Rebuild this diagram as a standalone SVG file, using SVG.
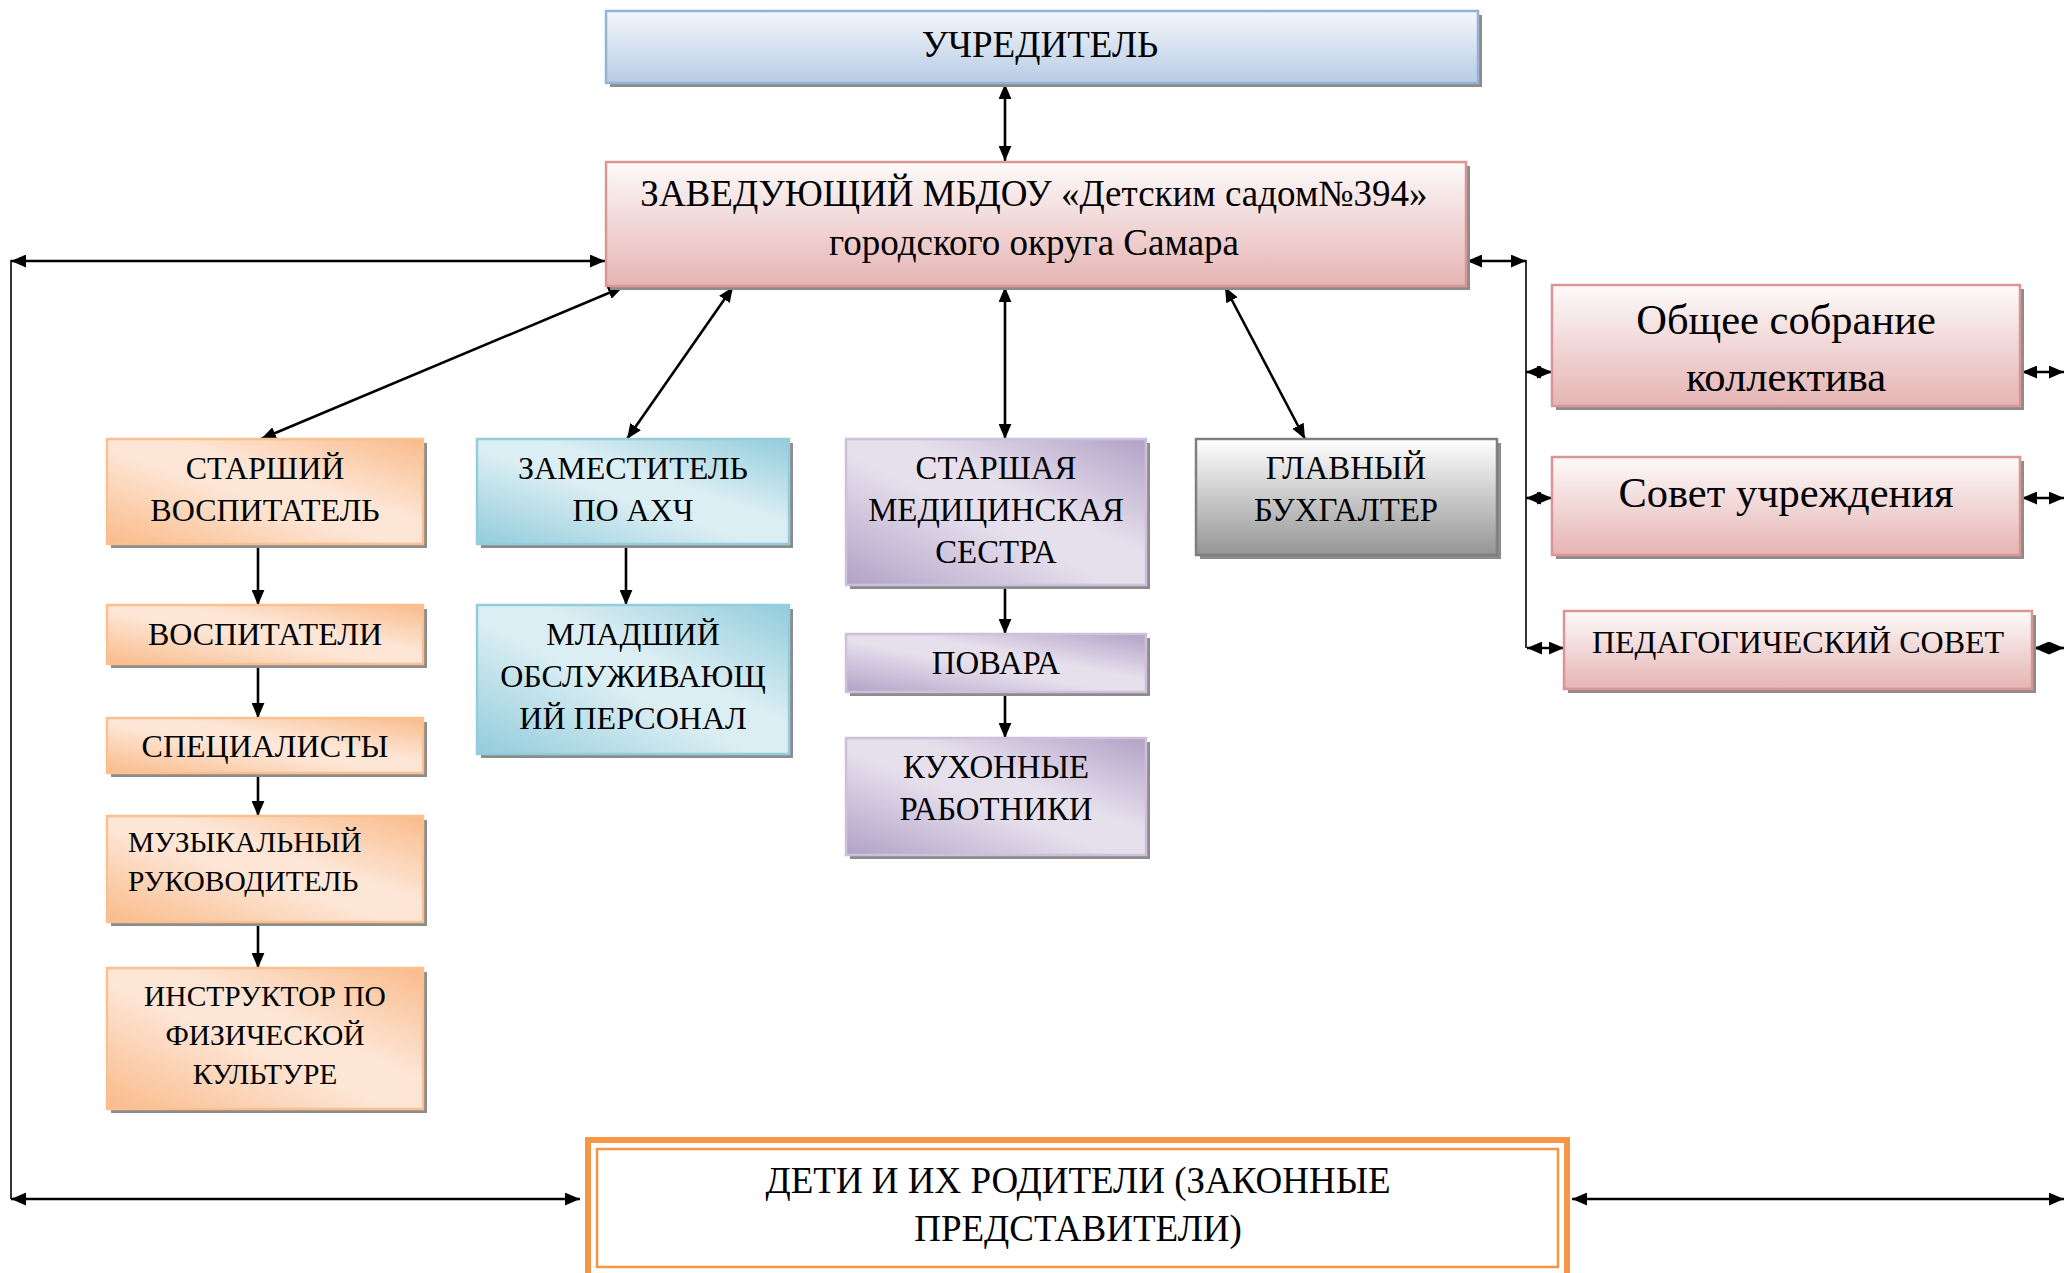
<svg xmlns="http://www.w3.org/2000/svg" width="2066" height="1273" viewBox="0 0 2066 1273">
<style>
  text { font-family: "Liberation Serif", "Times New Roman", serif; fill: #000; text-anchor: middle; }
  .t { font-size: 32px; }
  .ts { font-size: 29.5px; }
  .tp { font-size: 32.8px; }
  .tm { font-size: 37px; }
  .tb { font-size: 42.5px; }
  .sh { fill: #8c8c8c; }
  .conn line, .conn path { stroke: #000; stroke-width: 2.6; fill: none; }
  .thin { stroke-width: 1.6 !important; }
</style>
<defs>
  <linearGradient id="gBlueTop" x1="0" y1="0" x2="0" y2="1">
    <stop offset="0" stop-color="#f4f7fb"/>
    <stop offset="1" stop-color="#b8cce4"/>
  </linearGradient>
  <linearGradient id="gPink" x1="0" y1="0" x2="0" y2="1">
    <stop offset="0" stop-color="#fdfafa"/>
    <stop offset="1" stop-color="#e5b4b3"/>
  </linearGradient>
  <linearGradient id="gGray" x1="0" y1="0" x2="0" y2="1">
    <stop offset="0" stop-color="#ffffff"/>
    <stop offset="1" stop-color="#959595"/>
  </linearGradient>
  <linearGradient id="gOrange" x1="0" y1="1" x2="1" y2="0">
    <stop offset="0" stop-color="#f9bb8a"/>
    <stop offset="0.45" stop-color="#fde6d6"/>
    <stop offset="0.6" stop-color="#fde6d6"/>
    <stop offset="1" stop-color="#f9bb8a"/>
  </linearGradient>
  <linearGradient id="gCyan" x1="0" y1="1" x2="1" y2="0">
    <stop offset="0" stop-color="#92ccdc"/>
    <stop offset="0.45" stop-color="#dbeef3"/>
    <stop offset="0.6" stop-color="#dbeef3"/>
    <stop offset="1" stop-color="#92ccdc"/>
  </linearGradient>
  <linearGradient id="gPurple" x1="0" y1="1" x2="1" y2="0">
    <stop offset="0" stop-color="#b2a1c7"/>
    <stop offset="0.45" stop-color="#e6e0ed"/>
    <stop offset="0.6" stop-color="#e6e0ed"/>
    <stop offset="1" stop-color="#b2a1c7"/>
  </linearGradient>
  <marker id="ah" viewBox="0 0 14 12" refX="14" refY="6" markerWidth="15" markerHeight="13" markerUnits="userSpaceOnUse" orient="auto-start-reverse">
    <path d="M0,0 L14,6 L0,12 z" fill="#000"/>
  </marker>
</defs>

<rect width="2066" height="1273" fill="#fff"/>

<g id="conn" class="conn">
  <line x1="1005" y1="84" x2="1005" y2="161" marker-start="url(#ah)" marker-end="url(#ah)"/>
  <line x1="11" y1="261" x2="605" y2="261" marker-start="url(#ah)" marker-end="url(#ah)"/>
  <line class="thin" x1="11" y1="260" x2="11" y2="1199"/>
  <line x1="11" y1="1199" x2="580" y2="1199" marker-start="url(#ah)" marker-end="url(#ah)"/>
  <line x1="1572" y1="1199" x2="2064" y2="1199" marker-start="url(#ah)" marker-end="url(#ah)"/>
  <line x1="1467" y1="261" x2="1526" y2="261" marker-start="url(#ah)" marker-end="url(#ah)"/>
  <line class="thin" x1="1526" y1="260" x2="1526" y2="648"/>
  <line x1="1526" y1="372" x2="1552" y2="372" marker-start="url(#ah)" marker-end="url(#ah)"/>
  <line x1="1526" y1="498" x2="1552" y2="498" marker-start="url(#ah)" marker-end="url(#ah)"/>
  <line x1="1527" y1="648" x2="1564" y2="648" marker-start="url(#ah)" marker-end="url(#ah)"/>
  <line x1="2022" y1="372" x2="2064" y2="372" marker-start="url(#ah)" marker-end="url(#ah)"/>
  <line x1="2022" y1="498" x2="2064" y2="498" marker-start="url(#ah)" marker-end="url(#ah)"/>
  <line x1="2034" y1="648" x2="2064" y2="648" marker-start="url(#ah)" marker-end="url(#ah)"/>
  <line x1="623" y1="287" x2="261" y2="439" marker-start="url(#ah)" marker-end="url(#ah)"/>
  <line x1="733" y1="287" x2="627" y2="439" marker-start="url(#ah)" marker-end="url(#ah)"/>
  <line x1="1005" y1="287" x2="1005" y2="439" marker-start="url(#ah)" marker-end="url(#ah)"/>
  <line x1="1225" y1="287" x2="1305" y2="439" marker-start="url(#ah)" marker-end="url(#ah)"/>
  <line x1="258" y1="545" x2="258" y2="605" marker-end="url(#ah)"/>
  <line x1="258" y1="664" x2="258" y2="718" marker-end="url(#ah)"/>
  <line x1="258" y1="773" x2="258" y2="816" marker-end="url(#ah)"/>
  <line x1="258" y1="922" x2="258" y2="968" marker-end="url(#ah)"/>
  <line x1="626" y1="545" x2="626" y2="605" marker-end="url(#ah)"/>
  <line x1="1005" y1="586" x2="1005" y2="634" marker-end="url(#ah)"/>
  <line x1="1005" y1="692" x2="1005" y2="738" marker-end="url(#ah)"/>
</g>

<g id="uchreditel">
  <rect class="sh" x="610" y="15" width="872" height="72"/>
  <rect x="606" y="11" width="872" height="72" fill="url(#gBlueTop)" stroke="#95b3d7" stroke-width="2.5"/>
  <text class="tm" x="1040" y="57">УЧРЕДИТЕЛЬ</text>
</g>

<g id="zaveduyushchiy">
  <rect class="sh" x="610" y="166" width="860" height="124"/>
  <rect x="606" y="162" width="860" height="124" fill="url(#gPink)" stroke="#d99694" stroke-width="2.5"/>
  <text class="tm" x="1034" y="206">ЗАВЕДУЮЩИЙ МБДОУ «Детским садом№394»</text>
  <text class="tm" x="1034" y="255">городского округа Самара</text>
</g>

<g id="obshchee">
  <rect class="sh" x="1556" y="289" width="468" height="121"/>
  <rect x="1552" y="285" width="468" height="121" fill="url(#gPink)" stroke="#d99694" stroke-width="2.5"/>
  <text class="tb" x="1786" y="334">Общее собрание</text>
  <text class="tb" x="1786" y="391">коллектива</text>
</g>

<g id="sovet">
  <rect class="sh" x="1556" y="461" width="468" height="98"/>
  <rect x="1552" y="457" width="468" height="98" fill="url(#gPink)" stroke="#d99694" stroke-width="2.5"/>
  <text class="tb" x="1786" y="507">Совет учреждения</text>
</g>

<g id="pedsovet">
  <rect class="sh" x="1568" y="615" width="468" height="78"/>
  <rect x="1564" y="611" width="468" height="78" fill="url(#gPink)" stroke="#d99694" stroke-width="2.5"/>
  <text class="t" x="1798" y="653">ПЕДАГОГИЧЕСКИЙ СОВЕТ</text>
</g>

<g id="starshiy-vospitatel">
  <rect class="sh" x="111" y="443" width="316" height="105"/>
  <rect x="107" y="439" width="316" height="105" fill="url(#gOrange)" stroke="#fac090" stroke-width="2.5"/>
  <text class="t" x="265" y="479">СТАРШИЙ</text>
  <text class="t" x="265" y="521">ВОСПИТАТЕЛЬ</text>
</g>

<g id="vospitateli">
  <rect class="sh" x="111" y="609" width="316" height="59"/>
  <rect x="107" y="605" width="316" height="59" fill="url(#gOrange)" stroke="#fac090" stroke-width="2.5"/>
  <text class="t" x="265" y="645">ВОСПИТАТЕЛИ</text>
</g>

<g id="spetsialisty">
  <rect class="sh" x="111" y="722" width="316" height="55"/>
  <rect x="107" y="718" width="316" height="55" fill="url(#gOrange)" stroke="#fac090" stroke-width="2.5"/>
  <text class="t" x="265" y="757">СПЕЦИАЛИСТЫ</text>
</g>

<g id="muzykalnyy">
  <rect class="sh" x="111" y="820" width="316" height="106"/>
  <rect x="107" y="816" width="316" height="106" fill="url(#gOrange)" stroke="#fac090" stroke-width="2.5"/>
  <text class="ts" x="128" y="852" style="text-anchor:start">МУЗЫКАЛЬНЫЙ</text>
  <text class="ts" x="128" y="891" style="text-anchor:start">РУКОВОДИТЕЛЬ</text>
</g>

<g id="instruktor">
  <rect class="sh" x="111" y="972" width="316" height="141"/>
  <rect x="107" y="968" width="316" height="141" fill="url(#gOrange)" stroke="#fac090" stroke-width="2.5"/>
  <text class="ts" x="265" y="1006">ИНСТРУКТОР ПО</text>
  <text class="ts" x="265" y="1045">ФИЗИЧЕСКОЙ</text>
  <text class="ts" x="265" y="1084">КУЛЬТУРЕ</text>
</g>

<g id="zamestitel">
  <rect class="sh" x="481" y="443" width="312" height="105"/>
  <rect x="477" y="439" width="312" height="105" fill="url(#gCyan)" stroke="#93cddd" stroke-width="2.5"/>
  <text class="t" x="633" y="479">ЗАМЕСТИТЕЛЬ</text>
  <text class="t" x="633" y="521">ПО АХЧ</text>
</g>

<g id="mladshiy">
  <rect class="sh" x="481" y="609" width="312" height="149"/>
  <rect x="477" y="605" width="312" height="149" fill="url(#gCyan)" stroke="#93cddd" stroke-width="2.5"/>
  <text class="t" x="633" y="645">МЛАДШИЙ</text>
  <text class="t" x="633" y="687">ОБСЛУЖИВАЮЩ</text>
  <text class="t" x="633" y="729">ИЙ ПЕРСОНАЛ</text>
</g>

<g id="medsestra">
  <rect class="sh" x="850" y="443" width="300" height="146"/>
  <rect x="846" y="439" width="300" height="146" fill="url(#gPurple)" stroke="#ccc0da" stroke-width="2.5"/>
  <text class="tp" x="996" y="479">СТАРШАЯ</text>
  <text class="tp" x="996" y="521">МЕДИЦИНСКАЯ</text>
  <text class="tp" x="996" y="563">СЕСТРА</text>
</g>

<g id="povara">
  <rect class="sh" x="850" y="638" width="300" height="58"/>
  <rect x="846" y="634" width="300" height="58" fill="url(#gPurple)" stroke="#ccc0da" stroke-width="2.5"/>
  <text class="tp" x="996" y="674">ПОВАРА</text>
</g>

<g id="kukhonnye">
  <rect class="sh" x="850" y="742" width="300" height="117"/>
  <rect x="846" y="738" width="300" height="117" fill="url(#gPurple)" stroke="#ccc0da" stroke-width="2.5"/>
  <text class="tp" x="996" y="778">КУХОННЫЕ</text>
  <text class="tp" x="996" y="820">РАБОТНИКИ</text>
</g>

<g id="glavbukh">
  <rect class="sh" x="1200" y="443" width="301" height="116"/>
  <rect x="1196" y="439" width="301" height="116" fill="url(#gGray)" stroke="#7f7f7f" stroke-width="2.5"/>
  <text class="tp" x="1346" y="479">ГЛАВНЫЙ</text>
  <text class="tp" x="1346" y="521">БУХГАЛТЕР</text>
</g>

<g id="deti">
  <rect x="588" y="1140" width="979" height="150" fill="#fff" stroke="#f79646" stroke-width="6"/>
  <rect x="597" y="1149" width="961" height="118" fill="none" stroke="#f79646" stroke-width="2.5"/>
  <text class="tm" x="1078" y="1193">ДЕТИ И ИХ РОДИТЕЛИ (ЗАКОННЫЕ</text>
  <text class="tm" x="1078" y="1241">ПРЕДСТАВИТЕЛИ)</text>
</g>
</svg>
